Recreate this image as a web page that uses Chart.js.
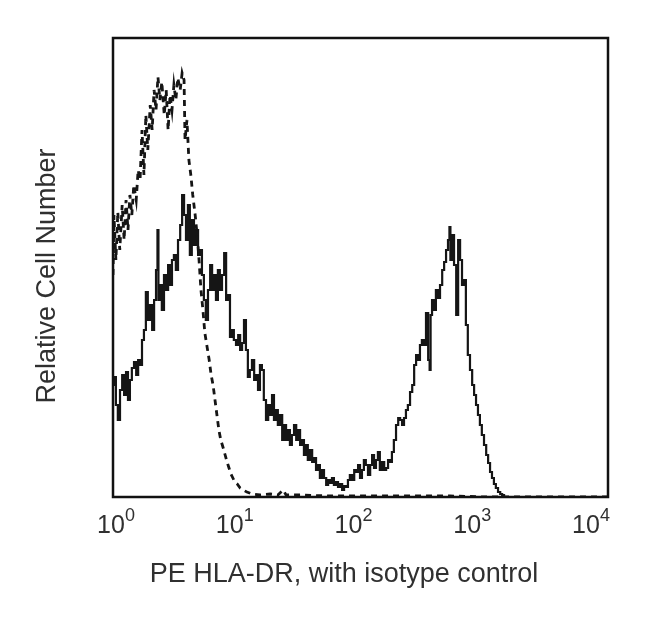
<!DOCTYPE html>
<html>
<head>
<meta charset="utf-8">
<script src="https://cdn.jsdelivr.net/npm/chart.js@4"></script>
<style>
  body { margin: 0; background: #fff; }
  canvas { display: block; }
</style>
</head>
<body>
<canvas id="histChart" width="650" height="622"></canvas>
<script>
// channel numbers on a 1024-channel, 4-decade log scale (256 channels per decade)
const hlaChannels = [0, 4, 8, 12, 17, 21, 25, 29, 33, 37, 41, 46, 50, 54, 58, 62, 66, 70, 74, 79,
  83, 87, 91, 93, 95, 99, 103, 108, 112, 116, 120, 124, 128, 132, 137, 141, 145, 149, 153, 157,
  161, 165, 170, 174, 178, 182, 186, 190, 194, 199, 203, 207, 211, 215, 219, 223, 228, 232, 236, 240,
  244, 248, 252, 257, 261, 265, 269, 273, 277, 281, 285, 290, 294, 298, 302, 306, 310, 314, 319, 323,
  327, 331, 335, 339, 343, 348, 352, 356, 360, 364, 368, 372, 377, 381, 385, 389, 393, 397, 401, 405,
  410, 414, 418, 422, 426, 430, 434, 439, 443, 447, 451, 455, 459, 463, 468, 472, 476, 480, 484, 488,
  492, 497, 501, 505, 509, 513, 517, 521, 525, 530, 534, 538, 542, 546, 550, 554, 559, 563, 567, 571,
  575, 579, 583, 588, 592, 596, 600, 604, 608, 612, 617, 621, 625, 629, 633, 637, 641, 645, 650, 654,
  656, 658, 662, 666, 670, 674, 679, 683, 687, 691, 695, 697, 699, 703, 708, 712, 716, 720, 724, 728,
  732, 736, 741, 745, 749, 753, 757, 761, 765, 770, 774, 778, 782, 786, 790, 794, 799, 803, 807, 811,
  1023];
const hlaCounts = [112, 120, 92, 77, 107, 122, 102, 125, 97, 117, 129, 135, 122, 137, 132, 157, 167, 205, 177, 192,
  167, 197, 227, 267, 197, 212, 187, 222, 207, 232, 212, 237, 242, 227, 257, 272, 302, 282, 257, 292,
  242, 277, 252, 267, 242, 247, 222, 197, 177, 207, 232, 207, 222, 197, 227, 207, 222, 244, 197, 202,
  160, 167, 157, 152, 162, 147, 154, 177, 147, 120, 127, 137, 117, 122, 107, 132, 127, 97, 77, 92,
  82, 102, 77, 87, 72, 82, 57, 72, 57, 67, 52, 62, 72, 57, 67, 52, 57, 42, 52, 37,
  47, 35, 39, 27, 32, 19, 27, 19, 12, 17, 14, 19, 12, 15, 10, 13, 7, 11, 10, 17,
  22, 17, 27, 25, 32, 19, 27, 37, 32, 22, 32, 42, 29, 37, 45, 27, 35, 27, 29, 37,
  35, 45, 57, 72, 79, 77, 72, 79, 87, 92, 105, 112, 132, 142, 137, 152, 157, 152, 184, 137,
  127, 182, 197, 187, 207, 199, 212, 227, 235, 247, 257, 270, 237, 262, 232, 182, 257, 237, 212, 217,
  172, 142, 127, 112, 102, 92, 82, 72, 62, 52, 42, 34, 25, 19, 13, 9, 5, 3, 2, 0,
  0];

const isoChannels = [0, 2, 6, 10, 14, 19, 23, 27, 31, 35, 39, 43, 48, 52, 56, 60, 64, 68, 72, 77,
  81, 85, 89, 93, 97, 101, 106, 110, 114, 118, 122, 126, 130, 134, 139, 143, 147, 149, 153, 157,
  161, 165, 170, 174, 178, 182, 186, 190, 194, 199, 203, 207, 211, 215, 219, 223, 228, 232, 236, 240,
  244, 248, 252, 257, 263, 269, 277, 288, 304, 325, 341, 352, 358, 387, 449, 511, 594, 697, 780, 1023];
const isoCounts = [222, 282, 237, 285, 247, 292, 257, 297, 267, 302, 282, 312, 297, 327, 317, 367, 322, 382, 347, 392,
  367, 407, 387, 420, 397, 415, 382, 407, 367, 402, 387, 412, 397, 419, 407, 424, 417, 357, 377, 337,
  322, 302, 282, 262, 237, 207, 187, 164, 152, 137, 122, 112, 97, 82, 67, 57, 49, 42, 35, 29,
  23, 19, 15, 13, 9, 7, 5, 3, 2, 3, 2, 7, 2, 2, 1, 1, 1, 1, 0, 0];

const decadeTicks = [0, 1, 2, 3, 4];
const xTitle = 'PE HLA-DR, with isotype control';
const yTitle = 'Relative Cell Number';

const toPoints = (chs, counts) => chs.map((c, i) => ({ x: Math.pow(10, c / 256), y: counts[i] }));

const textColor = '#303030';

const framePlugin = {
  id: 'frame',
  afterDraw(chart) {
    const { ctx, chartArea: a } = chart;
    const xs = chart.scales.x;
    ctx.save();
    ctx.strokeStyle = '#111';
    ctx.lineWidth = 2.5;
    ctx.strokeRect(a.left, a.top, a.right - a.left, a.bottom - a.top);

    // 10^n tick labels
    ctx.fillStyle = textColor;
    ctx.textBaseline = 'alphabetic';
    decadeTicks.forEach((d, i) => {
      const px = xs.getPixelForValue(Math.pow(10, d));
      ctx.font = '25px "Liberation Sans", Arial, sans-serif';
      const baseW = ctx.measureText('10').width;
      ctx.font = '18px "Liberation Sans", Arial, sans-serif';
      const supW = ctx.measureText(String(d)).width;
      const left = px + 3 - 5 * i - (baseW + supW) / 2;
      ctx.font = '25px "Liberation Sans", Arial, sans-serif';
      ctx.textAlign = 'left';
      ctx.fillText('10', left, 533);
      ctx.font = '18px "Liberation Sans", Arial, sans-serif';
      ctx.fillText(String(d), left + baseW, 521);
    });

    ctx.font = '27px "Liberation Sans", Arial, sans-serif';
    ctx.textAlign = 'center';
    ctx.fillText(xTitle, 344, 582);

    ctx.translate(55, 276);
    ctx.rotate(-Math.PI / 2);
    ctx.fillText(yTitle, 0, 0);
    ctx.restore();
  }
};

const ctx = document.getElementById('histChart').getContext('2d');
const histChart = new Chart(ctx, {
  type: 'line',
  data: {
    datasets: [{
      label: 'Isotype control',
      data: toPoints(isoChannels, isoCounts),
      borderColor: '#151515',
      borderWidth: 2.8,
      borderDash: [6, 5],
      pointRadius: 0,
      tension: 0,
      fill: false
    }, {
      label: 'PE HLA-DR',
      data: toPoints(hlaChannels, hlaCounts),
      borderColor: '#151515',
      borderWidth: 2.2,
      pointRadius: 0,
      stepped: 'middle',
      fill: false
    }]
  },
  options: {
    responsive: false,
    animation: false,
    devicePixelRatio: 1,
    layout: { padding: { left: 113, top: 38, right: 42, bottom: 125 } },
    plugins: { legend: { display: false }, tooltip: { enabled: false } },
    scales: {
      x: { type: 'logarithmic', min: 1, max: 10000, display: false },
      y: { min: 0, max: 459, display: false }
    }
  },
  plugins: [framePlugin]
});
</script>
</body>
</html>
